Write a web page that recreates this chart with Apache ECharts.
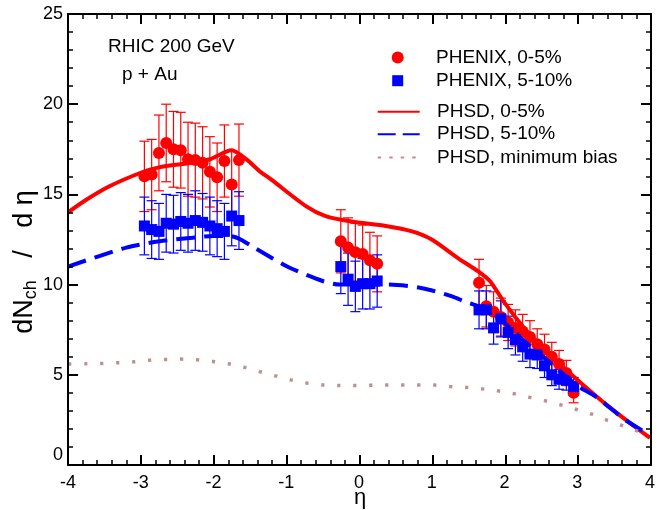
<!DOCTYPE html>
<html><head><meta charset="utf-8">
<script src="https://cdn.jsdelivr.net/npm/echarts@6/dist/echarts.min.js"></script>
<style>html,body{margin:0;padding:0;background:#fff}#c,#f{position:absolute;left:0;top:0;width:658px;height:510px}#f{pointer-events:none}</style>
</head><body><div id="c"></div><div id="f"></div>
<script>
// ---- data ----
const etaLeft  = [-2.95,-2.85,-2.75,-2.65,-2.55,-2.45,-2.35,-2.25,-2.15,-2.05,-1.95,-1.85,-1.75,-1.65];
const etaMid   = [-0.25,-0.15,-0.05,0.05,0.15,0.25];
const etaRight = [1.65,1.75,1.85,1.95,2.05,2.15,2.25,2.35,2.45,2.55,2.65,2.75,2.85,2.95];

const red05Left   = [16.0,16.1,17.3,17.85,17.5,17.45,16.95,16.9,16.75,16.25,15.95,16.85,15.55,16.9];
const red05LeftE  = [1.95,1.95,2.1,2.15,2.1,2.1,2.05,2.05,2.0,1.95,1.9,2.0,1.85,2.0];
const red05Mid    = [12.4,12.05,11.8,11.7,11.35,11.15];
const red05MidE   = [1.75,1.65,1.6,1.6,1.55,1.55];
const red05Right  = [10.1,8.8,8.5,8.2,7.9,7.6,7.4,7.1,6.7,6.4,6.0,5.6,5.1,4.0];
const red05RightE = [1.3,1.15,1.1,1.05,1.0,1.0,0.95,0.9,0.85,0.85,0.8,0.75,0.7,0.55];

const blue510Left   = [13.25,13.05,12.95,13.4,13.35,13.5,13.4,13.55,13.45,13.25,13.1,12.95,13.8,13.55];
const blue510LeftE  = [1.6,1.6,1.55,1.6,1.6,1.6,1.6,1.65,1.6,1.6,1.55,1.55,1.65,1.6];
const blue510Mid    = [11.0,10.3,9.9,10.05,10.05,10.2];
const blue510MidE   = [1.5,1.45,1.4,1.4,1.4,1.45];
const blue510Right  = [8.6,8.6,7.6,8.1,7.35,6.95,6.55,6.15,6.1,5.5,5.0,4.75,4.7,4.35];
const blue510RightE = [1.05,1.05,0.9,1.0,0.9,0.85,0.8,0.75,0.75,0.65,0.6,0.55,0.55,0.5];

const phsd05Eta = [-4,-3.75,-3.43,-3.0,-2.75,-2.3,-2.05,-1.75,-1.55,-1.37,-1.2,-0.73,-0.46,-0.1,0.37,0.73,1.0,1.35,1.5,1.65,1.8,2.0,2.29,2.65,3.05,3.43,3.75,4.0];
const phsd05Val = [14.0,14.7,15.45,16.2,16.5,16.75,16.95,17.45,16.95,16.3,15.8,14.35,13.8,13.5,13.25,12.95,12.5,11.5,11.1,10.7,10.2,9.0,7.5,6.0,4.55,3.25,2.25,1.5];

const phsd510Eta = [-4,-3.2,-2.74,-2.29,-2.0,-1.78,-1.65,-1.42,-0.96,-0.5,-0.27,0.41,0.87,1.28,1.46,1.78,2.01,2.29,2.65,3.0,3.25,3.66,4.0];
const phsd510Val = [11.0,12.05,12.4,12.6,12.7,12.7,12.55,12.0,10.95,10.2,10.0,10.0,9.8,9.35,9.05,8.6,7.85,6.8,5.6,4.4,3.8,2.5,1.65];

const phsdMbEta = [-4,-3.75,-3.53,-3.31,-3.1,-2.88,-2.67,-2.45,-2.23,-2.01,-1.79,-1.57,-1.36,-1.15,-0.94,-0.72,-0.5,-0.28,-0.07,0.15,0.37,0.59,0.81,1.03,1.25,1.47,1.69,1.91,2.12,2.34,2.55,2.76,2.98,3.19,3.4,3.61,3.81,4.0];
const phsdMbVal = [5.6,5.61,5.63,5.67,5.72,5.81,5.85,5.87,5.83,5.74,5.61,5.41,5.17,4.94,4.72,4.54,4.44,4.4,4.4,4.42,4.43,4.44,4.44,4.43,4.35,4.3,4.22,4.11,3.96,3.76,3.57,3.35,3.09,2.83,2.5,2.2,1.91,1.65];

const xTicks = [-4,-3,-2,-1,0,1,2,3,4];
const yTicks = [0,5,10,15,20,25];
const legendNames = ['PHENIX, 0-5%','PHENIX, 5-10%','PHSD, 0-5%','PHSD, 5-10%','PHSD, minimum bias'];

// ---- build ----
function pts(eta, v, e){ return eta.map((x,i)=> e ? [x, v[i], e[i]] : [x, v[i]]); }
const redPts  = [].concat(pts(etaLeft,red05Left,red05LeftE), pts(etaMid,red05Mid,red05MidE), pts(etaRight,red05Right,red05RightE));
const bluePts = [].concat(pts(etaLeft,blue510Left,blue510LeftE), pts(etaMid,blue510Mid,blue510MidE), pts(etaRight,blue510Right,blue510RightE));

const FONT = '"Liberation Sans", Arial, sans-serif';
const RED = '#ff0000', BLUE = '#0000ff', MB = '#c09090';
const X_MIN = xTicks[0], X_MAX = xTicks[xTicks.length-1], Y_MIN = yTicks[0], Y_MAX = yTicks[yTicks.length-1];
const GRID = {left:68, right:7, top:14, bottom:45};

function errRender(params, api){
  const x = api.value(0), y = api.value(1), e = api.value(2);
  const t = api.coord([x, y+e]), b = api.coord([x, y-e]);
  const hw = 5;
  const st = {stroke: api.visual('color'), lineWidth: 1.2};
  return {type:'group', children:[
    {type:'line', shape:{x1:t[0],y1:t[1],x2:b[0],y2:b[1]}, style:st},
    {type:'line', shape:{x1:t[0]-hw,y1:t[1],x2:t[0]+hw,y2:t[1]}, style:st},
    {type:'line', shape:{x1:b[0]-hw,y1:b[1],x2:b[0]+hw,y2:b[1]}, style:st}
  ]};
}

function legendItem(name, cx, cy, w, h, textLeft, extra){
  return Object.assign({
    show:true, selectedMode:false, orient:'vertical', padding:0,
    left: cx - w/2, top: cy - h/2, itemWidth:w, itemHeight:h,
    data:[name],
    textStyle:{fontFamily:FONT, fontSize:19, color:'#000', padding:[0,0,0, textLeft - (cx - w/2) - w - 5]}
  }, extra||{});
}

// main chart: data, labels, legend, texts
const labelAxis = (extra) => Object.assign({type:'value', axisLine:{show:false, onZero:false}, axisTick:{show:false},
  minorTick:{show:false}, splitLine:{show:false}}, extra);

const option = {
  animation:false,
  grid:Object.assign({}, GRID),
  xAxis:[labelAxis({min:X_MIN, max:X_MAX, interval:1, position:'bottom',
      axisLabel:{fontFamily:FONT, fontSize:18, color:'#000', margin:9,
        formatter:(v)=> xTicks.indexOf(v)>=0 ? String(v) : ''}})],
  yAxis:[labelAxis({min:Y_MIN, max:Y_MAX, interval:5, position:'left',
      axisLabel:{fontFamily:FONT, fontSize:18, color:'#000', margin:5,
        formatter:(v)=> yTicks.indexOf(v)>=0 ? (v===0 ? '{z|0}' : String(v)) : '',
        rich:{z:{fontFamily:FONT, fontSize:18, color:'#000', padding:[0,0,20,0]}}}})],
  legend:[
    legendItem(legendNames[0], 397.7, 54, 12, 12, 436, {icon:'circle'}),
    legendItem(legendNames[1], 397.7, 76.7, 11, 11, 436, {icon:'rect'}),
    legendItem(legendNames[2], 397.7, 109.3, 42, 14, 436, {itemStyle:{opacity:0}}),
    legendItem(legendNames[3], 397.7, 131.7, 42, 14, 436, {itemStyle:{opacity:0}, lineStyle:{type:[18,7]}}),
    legendItem(legendNames[4], 397.7, 155, 42, 14, 436, {itemStyle:{opacity:0}, lineStyle:{type:[3.5,8]}})
  ],
  graphic:[
    {type:'text', left:108, top:37, style:{text:'RHIC 200 GeV', font:'19px '+FONT, fill:'#000'}},
    {type:'text', left:122, top:65, style:{text:'p + Au', font:'19px '+FONT, fill:'#000'}},
    {type:'text', x:360, y:498, style:{text:'η', font:'22px '+FONT, fill:'#000', align:'center', verticalAlign:'middle'}},
    {type:'text', x:25, y:262, rotation:Math.PI/2,
      style:{text:'{a|dN}{b|ch}{a|   /   d η}', align:'center', verticalAlign:'middle',
        rich:{a:{fontFamily:FONT, fontSize:27, fill:'#000'},
              b:{fontFamily:FONT, fontSize:18, fill:'#000', verticalAlign:'bottom', padding:[12,0,0,0]}}}}
  ],
  series:[
    {type:'custom', name:'errRed', renderItem:errRender, data:redPts, encode:{x:0,y:1}, itemStyle:{color:RED}, z:2},
    {type:'custom', name:'errBlue', renderItem:errRender, data:bluePts, encode:{x:0,y:1}, itemStyle:{color:BLUE}, z:2},
    {type:'scatter', name:legendNames[0], data:redPts.map(p=>[p[0],p[1]]), symbol:'circle', symbolSize:12, itemStyle:{color:RED, opacity:1}, z:3},
    {type:'scatter', name:legendNames[1], data:bluePts.map(p=>[p[0],p[1]]), symbol:'rect', symbolSize:11, itemStyle:{color:BLUE, opacity:1}, z:4},
    {type:'line', name:legendNames[2], data:pts(phsd05Eta,phsd05Val), symbol:'none', smooth:0.25,
      lineStyle:{color:RED, width:4}, itemStyle:{color:RED}, z:5},
    {type:'line', name:legendNames[3], data:pts(phsd510Eta,phsd510Val), symbol:'none', smooth:0.25,
      lineStyle:{color:BLUE, width:4, type:[19,9]}, itemStyle:{color:BLUE}, z:6},
    {type:'line', name:legendNames[4], data:pts(phsdMbEta,phsdMbVal), symbol:'none', smooth:0.25,
      lineStyle:{color:MB, width:3.5, type:[3.5,12.5]}, itemStyle:{color:MB}, z:6}
  ]
};
echarts.init(document.getElementById('c'), null, {renderer:'canvas'}).setOption(option);

// overlay chart: frame with mirrored inward major/minor ticks on all four sides
const frameAxis = (extra) => Object.assign({
  type:'value',
  axisLine:{show:true, onZero:false, lineStyle:{color:'#000', width:2}},
  axisTick:{show:true, inside:true, length:10, lineStyle:{color:'#000', width:2}},
  minorTick:{show:true, splitNumber:5, length:5, lineStyle:{color:'#000', width:1.5}},
  splitLine:{show:false}, axisLabel:{show:false}
}, extra);
echarts.init(document.getElementById('f'), null, {renderer:'canvas'}).setOption({
  animation:false,
  grid:Object.assign({}, GRID),
  xAxis:[frameAxis({min:X_MIN, max:X_MAX, interval:1, position:'bottom'}),
         frameAxis({min:X_MIN, max:X_MAX, interval:1, position:'top'})],
  yAxis:[frameAxis({min:Y_MIN, max:Y_MAX, interval:5, position:'left'}),
         frameAxis({min:Y_MIN, max:Y_MAX, interval:5, position:'right'})],
  series:[{type:'line', data:[], xAxisIndex:0, yAxisIndex:0}]
});
</script></body></html>
